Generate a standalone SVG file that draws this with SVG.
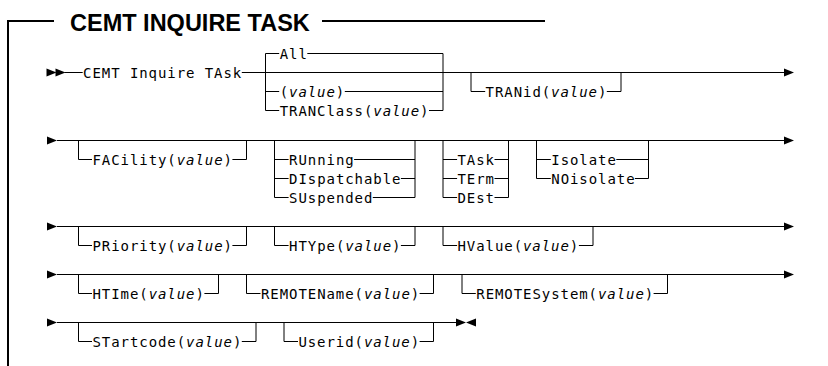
<svg xmlns="http://www.w3.org/2000/svg" xmlns:xlink="http://www.w3.org/1999/xlink" width="828" height="366" viewBox="0 0 828 366">
<style>
.t{font-family:"DejaVu Sans Mono",monospace;font-size:14px;letter-spacing:0.93px;fill:#000}
.i{font-style:italic}
.l{stroke:#000;stroke-width:1;fill:none}
.f{stroke:#000;stroke-width:2;fill:none}
.ttl{font-family:"Liberation Sans",Arial,sans-serif;font-weight:bold;font-size:23.5px;fill:#000}
.a{fill:#000}
</style>
<defs>
<path id="ar" d="M0,-4 L10,0 L0,4 Z"/>
<path id="al" d="M10,-4 L0,0 L10,4 Z"/>
</defs>
<rect width="828" height="366" fill="#fff"/>
<g id="frame">
<path class="f" d="M8 366 V21 H54"/>
<path class="f" d="M322 21 H545"/>
<text id="title" class="ttl" x="70" y="30.5">CEMT INQUIRE TASK</text>
</g>
<g id="connectors">
<use href="#ar" class="a" x="46.5" y="72.5"/>
<use href="#ar" class="a" x="55.5" y="72.5"/>
<path class="l" d="M64.5 72.5 H82.7 M241.8 72.5 H784.7"/>
<path class="l" d="M265.5 53.5 V110.5 M265.5 53.5 H279.2 M265.5 91.5 H279.2 M265.5 110.5 H279.2"/>
<path class="l" d="M443 53.5 V110.5 M307.3 53.5 H443 M344.8 91.5 H443 M429 110.5 H443"/>
<path class="l" d="M471 72.5 V91.5 H485.2 M606.8 91.5 H621 V72.5"/>
<use href="#ar" class="a" x="784" y="72.5"/>
<use href="#ar" class="a" x="47" y="140.5"/>
<path class="l" d="M57 140.5 H784.7"/>
<path class="l" d="M78.5 140.5 V159.5 H92 M232.4 159.5 H246.5 V140.5"/>
<path class="l" d="M274.5 140.5 V197.5 M274.5 159.5 H288.6 M274.5 178.5 H288.6 M274.5 197.5 H288.6"/>
<path class="l" d="M415 140.5 V197.5 M354.1 159.5 H415 M400.9 178.5 H415 M372.8 197.5 H415"/>
<path class="l" d="M443 140.5 V197.5 M443 159.5 H457.1 M443 178.5 H457.1 M443 197.5 H457.1"/>
<path class="l" d="M508.5 140.5 V197.5 M494.5 159.5 H508.5 M494.5 178.5 H508.5 M494.5 197.5 H508.5"/>
<path class="l" d="M536.5 140.5 V178.5 M536.5 159.5 H550.8 M536.5 178.5 H550.8"/>
<path class="l" d="M648.5 140.5 V178.5 M616.3 159.5 H648.5 M634.9 178.5 H648.5"/>
<use href="#ar" class="a" x="784" y="140.5"/>
<use href="#ar" class="a" x="47" y="226.5"/>
<path class="l" d="M57 226.5 H784.7"/>
<path class="l" d="M78.5 226.5 V245.5 H92 M232.4 245.5 H246.5 V226.5"/>
<path class="l" d="M274.5 226.5 V245.5 H288.6 M400.9 245.5 H415 V226.5"/>
<path class="l" d="M443 226.5 V245.5 H457.1 M578.9 245.5 H593 V226.5"/>
<use href="#ar" class="a" x="784" y="226.5"/>
<use href="#ar" class="a" x="47" y="274.5"/>
<path class="l" d="M57 274.5 H784.7"/>
<path class="l" d="M78.5 274.5 V293.5 H92 M204.4 293.5 H218.5 V274.5"/>
<path class="l" d="M246.5 274.5 V293.5 H260.5 M419.6 293.5 H433.5 V274.5"/>
<path class="l" d="M462 274.5 V293.5 H475.8 M653.6 293.5 H667.5 V274.5"/>
<use href="#ar" class="a" x="784" y="274.5"/>
<use href="#ar" class="a" x="47" y="322.5"/>
<path class="l" d="M57 322.5 H456"/>
<path class="l" d="M78.5 322.5 V341.5 H92 M241.8 341.5 H256 V322.5"/>
<path class="l" d="M284 322.5 V341.5 H298 M419.6 341.5 H433.5 V322.5"/>
<use href="#ar" class="a" x="456" y="322.5"/>
<use href="#al" class="a" x="466" y="322.5"/>
</g>
<g id="n-cmd"><text class="t" x="83.1" y="77.5">CEMT Inquire TAsk</text></g>
<g id="n-all"><text class="t" x="279.7" y="58.5">All</text></g>
<g id="n-value"><text class="t" x="279.7" y="96.5">(<tspan class="i">value</tspan>)</text></g>
<g id="n-tranclass"><text class="t" x="279.7" y="115.5">TRANClass(<tspan class="i">value</tspan>)</text></g>
<g id="n-tranid"><text class="t" x="485.6" y="96.5">TRANid(<tspan class="i">value</tspan>)</text></g>
<g id="n-facility"><text class="t" x="92.5" y="164.5">FACility(<tspan class="i">value</tspan>)</text></g>
<g id="n-running"><text class="t" x="289.1" y="164.5">RUnning</text></g>
<g id="n-dispatchable"><text class="t" x="289.1" y="183.5">DIspatchable</text></g>
<g id="n-suspended"><text class="t" x="289.1" y="202.5">SUspended</text></g>
<g id="n-task"><text class="t" x="457.5" y="164.5">TAsk</text></g>
<g id="n-term"><text class="t" x="457.5" y="183.5">TErm</text></g>
<g id="n-dest"><text class="t" x="457.5" y="202.5">DEst</text></g>
<g id="n-isolate"><text class="t" x="551.3" y="164.5">Isolate</text></g>
<g id="n-noisolate"><text class="t" x="551.3" y="183.5">NOisolate</text></g>
<g id="n-priority"><text class="t" x="92.5" y="250.5">PRiority(<tspan class="i">value</tspan>)</text></g>
<g id="n-htype"><text class="t" x="289.1" y="250.5">HTYpe(<tspan class="i">value</tspan>)</text></g>
<g id="n-hvalue"><text class="t" x="457.5" y="250.5">HValue(<tspan class="i">value</tspan>)</text></g>
<g id="n-htime"><text class="t" x="92.5" y="298.5">HTIme(<tspan class="i">value</tspan>)</text></g>
<g id="n-remotename"><text class="t" x="261" y="298.5">REMOTEName(<tspan class="i">value</tspan>)</text></g>
<g id="n-remotesystem"><text class="t" x="476.3" y="298.5">REMOTESystem(<tspan class="i">value</tspan>)</text></g>
<g id="n-startcode"><text class="t" x="92.5" y="346.5">STartcode(<tspan class="i">value</tspan>)</text></g>
<g id="n-userid"><text class="t" x="298.4" y="346.5">Userid(<tspan class="i">value</tspan>)</text></g>
</svg>
